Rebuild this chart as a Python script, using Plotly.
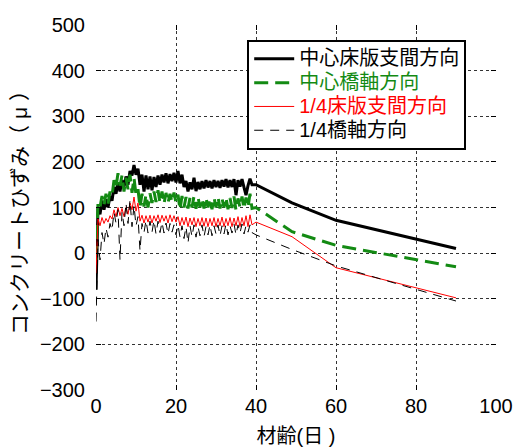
import plotly.graph_objects as go

# sampling days for the continuously logged part (0 to 39 days)
days = [0, 0.5, 1, 1.5, 2, 2.5, 3, 3.5, 4, 4.5, 5, 5.5, 6, 6.5, 7, 7.5, 8, 8.5, 9, 9.5,
        10, 10.5, 11, 11.5, 12, 12.5, 13, 13.5, 14, 14.5, 15, 15.5, 16, 16.5, 17, 17.5, 18, 18.5, 19, 19.5,
        20, 20.5, 21, 21.5, 22, 22.5, 23, 23.5, 24, 24.5, 25, 25.5, 26, 26.5, 27, 27.5, 28, 28.5, 29, 29.5,
        30, 30.5, 31, 31.5, 32, 32.5, 33, 33.5, 34, 34.5, 35, 35.5, 36, 36.5, 37, 37.5, 38, 38.5, 39]

center_slab = [-80, 100, 85, 115, 95, 118, 100, 125, 115, 145, 130, 155, 135, 160, 145, 168, 150, 180, 170, 193,
               172, 185, 150, 172, 135, 170, 140, 168, 138, 167, 145, 170, 150, 172, 155, 175, 153, 173, 158, 176,
               155, 180, 153, 172, 145, 158, 135, 155, 140, 165, 136, 156, 140, 158, 142, 160, 144, 158, 142, 160,
               145, 158, 143, 160, 146, 162, 144, 160, 145, 162, 127, 160, 146, 162, 144, 127, 148, 163, 150]

center_bridge = [-15, 110, 100, 125, 105, 130, 108, 135, 125, 160, 145, 175, 148, 170, 135, 165, 140, 172, 132, 165,
                 128, 140, 100, 130, 102, 128, 100, 131, 110, 135, 112, 138, 110, 135, 108, 132, 110, 130, 112, 133,
                 110, 128, 95, 125, 100, 123, 98, 122, 100, 125, 97, 123, 100, 120, 98, 122, 100, 120, 96, 122,
                 100, 123, 98, 120, 100, 122, 96, 121, 99, 124, 94, 120, 100, 124, 97, 122, 100, 130, 98]

quarter_slab = [-44, 75, 60, 78, 65, 76, 68, 82, 75, 95, 80, 100, 82, 98, 80, 100, 85, 110, 95, 123,
                92, 110, 70, 83, 66, 82, 68, 83, 66, 82, 70, 84, 67, 83, 70, 82, 66, 84, 69, 82,
                68, 80, 60, 78, 62, 79, 58, 77, 62, 78, 58, 76, 60, 78, 59, 77, 58, 76, 60, 78,
                58, 76, 60, 79, 58, 76, 60, 78, 58, 77, 60, 80, 58, 78, 60, 82, 58, 84, 62]

quarter_bridge = [-150, 30, -15, 45, 20, 55, 35, 65, 50, 90, 66, 95, -15, 90, 60, 110, 65, 116, 58, 105,
                  60, 80, 5, 65, 45, 72, 44, 70, 46, 72, 42, 70, 45, 68, 44, 66, 42, 65, 46, 62,
                  40, 62, 35, 60, 32, 58, 22, 60, 36, 62, 35, 58, 38, 62, 36, 58, 40, 62, 38, 60,
                  42, 62, 38, 60, 42, 64, 40, 60, 44, 64, 40, 62, 44, 64, 42, 60, 46, 62, 45]

# later spot measurements
late_days = [40, 49, 60, 90]
late_center_slab = [150, 110, 72, 10]
late_center_bridge = [100, 47, 17, -30]
late_quarter_slab = [68, 36, -32, -98]
late_quarter_bridge = [40, 8, -28, -105]

names = ["中心床版支間方向", "中心橋軸方向", "1/4床版支間方向", "1/4橋軸方向"]
colors = ["#000000", "#138a13", "#ff0000", "#000000"]
dashes = ["solid", "14px,7px", "solid", "9px,7px"]
widths = [3, 3, 1, 1]
series = [center_slab + late_center_slab, center_bridge + late_center_bridge,
          quarter_slab + late_quarter_slab, quarter_bridge + late_quarter_bridge]

x_all = days + late_days

fig = go.Figure()
for name, col, d, w, ys in zip(names, colors, dashes, widths, series):
    fig.add_trace(go.Scatter(
        x=x_all, y=ys, mode="lines",
        name=f'<span style="color:{col};font-size:20px">{name}</span>',
        line=dict(color=col, dash=d, width=w),
    ))

font_family = "Liberation Sans, Arial, Noto Sans CJK JP, sans-serif"

fig.update_layout(
    width=514, height=447,
    margin=dict(l=96, r=18, t=25, b=57),
    paper_bgcolor="white", plot_bgcolor="white",
    font=dict(family=font_family, size=20, color="black"),
    showlegend=True,
    legend=dict(
        x=0.378, y=0.959, xanchor="left", yanchor="top",
        bgcolor="white", bordercolor="black", borderwidth=2,
        font=dict(size=16, family=font_family),
        tracegroupgap=0, itemwidth=40,
    ),
    xaxis=dict(
        range=[0, 100], tickvals=[0, 20, 40, 60, 80, 100],
        showgrid=True, gridcolor="#333333", griddash="dot", gridwidth=1,
        zeroline=False, showline=False, automargin=False,
        ticks="inside", ticklen=5, tickcolor="black", mirror="ticks",
        tickfont=dict(size=20), ticklabelstandoff=2,
        title=dict(text="材齢(日 )", font=dict(size=20), standoff=12),
    ),
    yaxis=dict(
        range=[-300, 500], tickvals=[-300, -200, -100, 0, 100, 200, 300, 400, 500],
        showgrid=True, gridcolor="#333333", griddash="dot", gridwidth=1,
        zeroline=False, showline=False, automargin=False,
        ticks="inside", ticklen=5, tickcolor="black", mirror="ticks",
        tickfont=dict(size=20), ticklabelstandoff=10,
        title=dict(text="コンクリートひずみ（ μ ）", font=dict(size=21), standoff=6),
    ),
)

fig.write_html("out.html", config={"displayModeBar": False},
               post_script="document.body.style.margin='0';")
